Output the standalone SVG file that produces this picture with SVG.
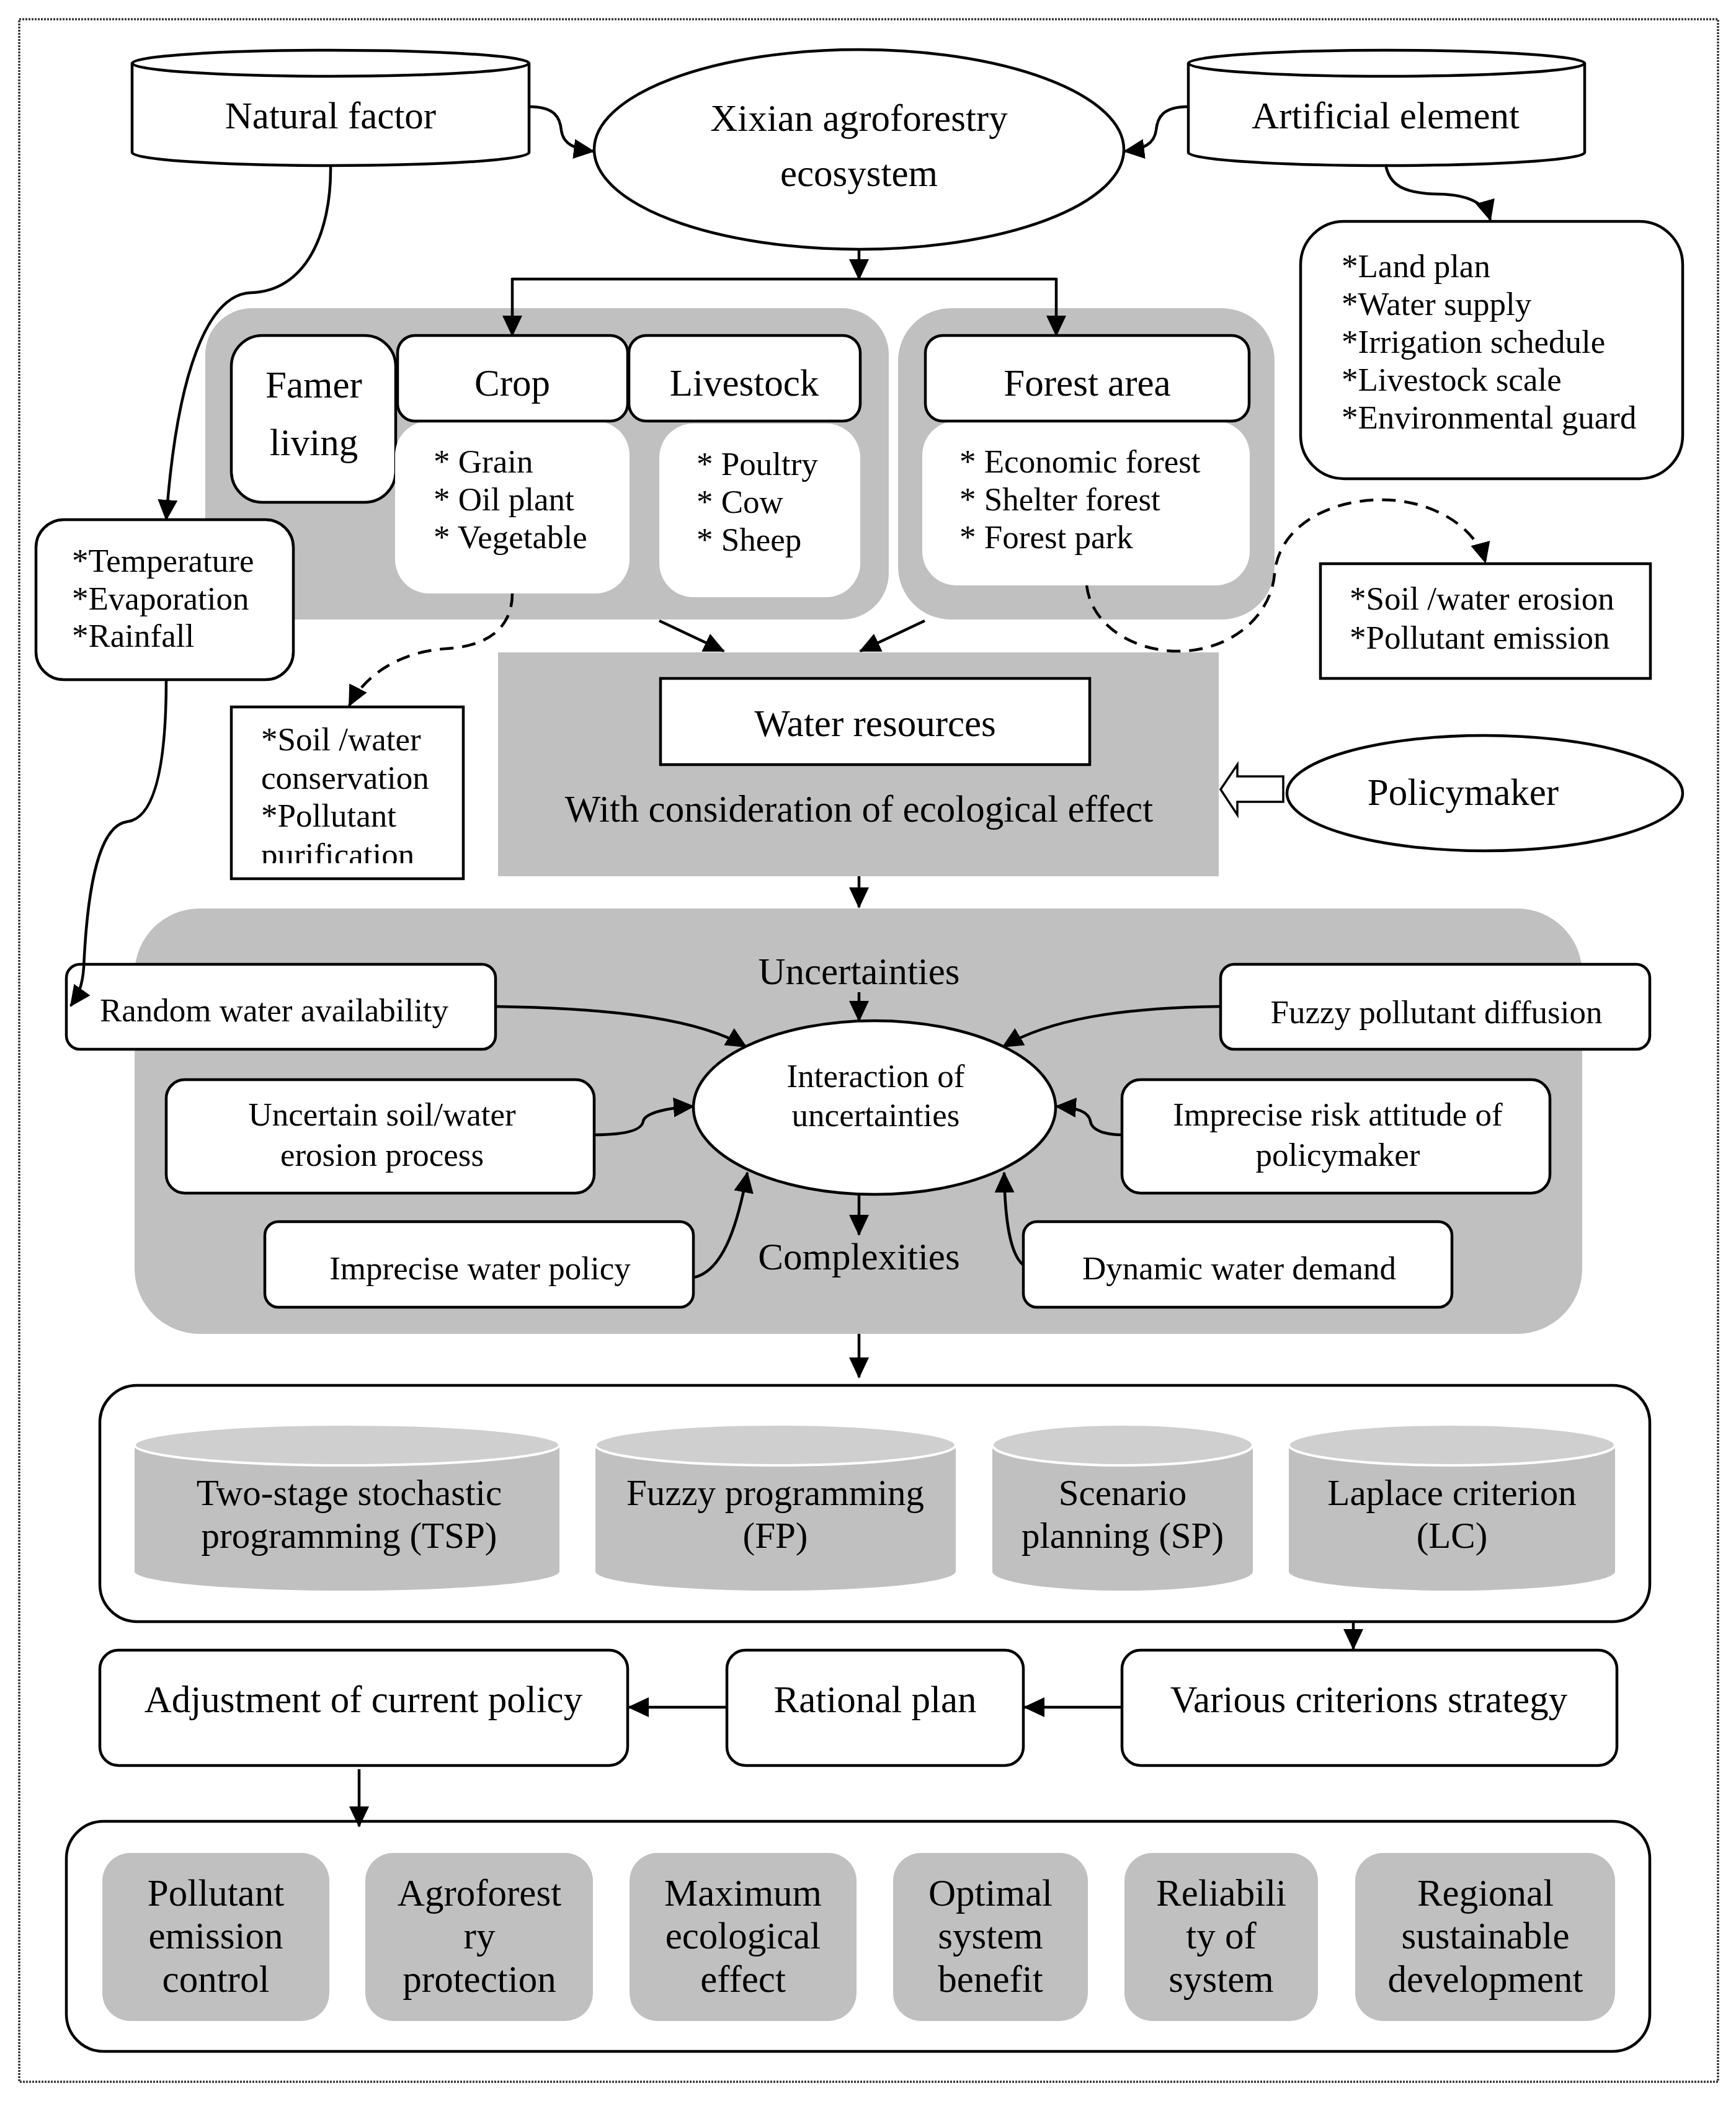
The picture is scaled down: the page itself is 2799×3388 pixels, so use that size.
<svg xmlns="http://www.w3.org/2000/svg" width="2799" height="3388" viewBox="0 0 2799 3388">
<defs>
<marker id="ah" markerUnits="userSpaceOnUse" markerWidth="34" markerHeight="32" refX="32" refY="16" orient="auto" viewBox="0 0 34 32"><path d="M0,0 L34,16 L0,32 z" fill="#000"/></marker>
<clipPath id="clipSoil"><rect x="373" y="1140" width="374" height="252"/></clipPath>
</defs>
<style>
text{font-family:"Liberation Serif","Times New Roman",serif;fill:#000}
.t61{font-size:61px}
.t59{font-size:59px}
.t53{font-size:53px}
.mid{text-anchor:middle}
.box{fill:#fff;stroke:#000;stroke-width:4.5}
.grey{fill:#c0c0c0;stroke:none}
.wh{fill:#fff;stroke:none}
.cyl{fill:#c0c0c0;stroke:none}
.cyltop{fill:#cfcfcf;stroke:#fff;stroke-width:4}
.conn{fill:none;stroke:#000;stroke-width:4.5}
.arr{marker-end:url(#ah)}
.dash{stroke-dasharray:22 14}
</style>
<rect width="2799" height="3388" fill="#fff"/>
<rect id="frame" x="31" y="31" width="2739" height="3326" fill="none" stroke="#333" stroke-width="3.5" stroke-dasharray="3 2"/>

<!-- background panels -->
<g id="panel-agri"><rect class="grey" x="331" y="497" width="1102" height="502" rx="75"/></g>
<g id="panel-forest"><rect class="grey" x="1448" y="497" width="607" height="502" rx="85"/></g>
<g id="panel-water"><rect class="grey" x="803" y="1052" width="1162" height="361"/></g>
<g id="panel-uncert"><rect class="grey" x="217" y="1465" width="2334" height="686" rx="105"/></g>

<g id="natural-factor">
<path class="box" d="M213,102 L213,246 A320,21 0 0 0 853,246 L853,102"/>
<ellipse class="box" cx="533" cy="102" rx="320" ry="21"/>
<text class="t61 mid" x="533" y="207">Natural factor</text>
</g>
<g id="artificial-element">
<path class="box" d="M1916,102 L1916,246 A319.5,21 0 0 0 2555,246 L2555,102"/>
<ellipse class="box" cx="2235.5" cy="102" rx="319.5" ry="21"/>
<text class="t61 mid" x="2234" y="207">Artificial element</text>
</g>
<g id="xixian">
<ellipse class="box" cx="1385" cy="241" rx="427" ry="161"/>
<text class="t61 mid" x="1385" y="211">Xixian agroforestry</text>
<text class="t61 mid" x="1385" y="300">ecosystem</text>
</g>
<g id="artificial-list">
<rect class="box" x="2097" y="357" width="616" height="415" rx="70"/>
<text class="t53" x="2163" y="447">*Land plan</text>
<text class="t53" x="2163" y="508">*Water supply</text>
<text class="t53" x="2163" y="569">*Irrigation schedule</text>
<text class="t53" x="2163" y="630">*Livestock scale</text>
<text class="t53" x="2163" y="691">*Environmental guard</text>
</g>
<g id="famer-living">
<rect class="box" x="373" y="541" width="265" height="269" rx="50"/>
<text class="t61 mid" x="506" y="641">Famer</text>
<text class="t61 mid" x="506" y="734">living</text>
</g>
<g id="crop">
<rect class="wh" x="637" y="679" width="378" height="278" rx="55"/>
<rect class="box" x="641" y="541" width="371" height="138" rx="28"/>
<text class="t61 mid" x="826" y="638">Crop</text>
<text class="t53" x="699" y="762">* Grain</text>
<text class="t53" x="699" y="823">* Oil plant</text>
<text class="t53" x="699" y="884">* Vegetable</text>
</g>
<g id="livestock">
<rect class="wh" x="1063" y="683" width="324" height="280" rx="55"/>
<rect class="box" x="1014" y="541" width="373" height="138" rx="28"/>
<text class="t61 mid" x="1200" y="638">Livestock</text>
<text class="t53" x="1123" y="766">* Poultry</text>
<text class="t53" x="1123" y="827">* Cow</text>
<text class="t53" x="1123" y="888">* Sheep</text>
</g>
<g id="forest-area">
<rect class="wh" x="1487" y="679" width="528" height="265" rx="55"/>
<rect class="box" x="1492" y="541" width="522" height="138" rx="28"/>
<text class="t61 mid" x="1753" y="638">Forest area</text>
<text class="t53" x="1547" y="762">* Economic forest</text>
<text class="t53" x="1547" y="823">* Shelter forest</text>
<text class="t53" x="1547" y="884">* Forest park</text>
</g>
<g id="natural-list">
<rect class="box" x="58" y="838" width="415" height="258" rx="45"/>
<text class="t53" x="116" y="922">*Temperature</text>
<text class="t53" x="116" y="983">*Evaporation</text>
<text class="t53" x="116" y="1043">*Rainfall</text>
</g>
<g id="soil-conservation">
<rect class="box" x="373" y="1140" width="374" height="277"/>
<g clip-path="url(#clipSoil)">
<text class="t53" x="421" y="1210">*Soil /water</text>
<text class="t53" x="421" y="1272">conservation</text>
<text class="t53" x="421" y="1333">*Pollutant</text>
<text class="t53" x="421" y="1396">purification</text>
</g>
</g>
<g id="soil-erosion">
<rect class="box" x="2129" y="909" width="532" height="185"/>
<text class="t53" x="2176" y="983">*Soil /water erosion</text>
<text class="t53" x="2176" y="1046">*Pollutant emission</text>
</g>
<g id="water-resources">
<rect class="box" x="1065" y="1094" width="692" height="139"/>
<text class="t61 mid" x="1411" y="1187">Water resources</text>
<text class="t61 mid" x="1385" y="1325">With consideration of ecological effect</text>
</g>
<g id="policymaker">
<ellipse class="box" cx="2394" cy="1279" rx="319" ry="93"/>
<text class="t61 mid" x="2359" y="1298">Policymaker</text>
</g>
<g id="uncertainties-labels">
<text class="t61 mid" x="1385" y="1587">Uncertainties</text>
<text class="t61 mid" x="1385" y="2047">Complexities</text>
</g>
<g id="interaction">
<ellipse class="box" cx="1410" cy="1786" rx="292" ry="140"/>
<text class="t53 mid" x="1412" y="1753">Interaction of</text>
<text class="t53 mid" x="1412" y="1816">uncertainties</text>
</g>
<g id="random-water">
<rect class="box" x="107" y="1555" width="692" height="137" rx="22"/>
<text class="t53 mid" x="442" y="1647">Random water availability</text>
</g>
<g id="uncertain-soil">
<rect class="box" x="268" y="1741" width="690" height="183" rx="30"/>
<text class="t53 mid" x="616" y="1815">Uncertain soil/water</text>
<text class="t53 mid" x="616" y="1880">erosion process</text>
</g>
<g id="water-policy">
<rect class="box" x="427" y="1970" width="691" height="138" rx="22"/>
<text class="t53 mid" x="774" y="2063">Imprecise water policy</text>
</g>
<g id="fuzzy-pollutant">
<rect class="box" x="1968" y="1555" width="692" height="137" rx="22"/>
<text class="t53 mid" x="2316" y="1650">Fuzzy pollutant diffusion</text>
</g>
<g id="risk-attitude">
<rect class="box" x="1809" y="1741" width="690" height="183" rx="30"/>
<text class="t53 mid" x="2157" y="1815">Imprecise risk attitude of</text>
<text class="t53 mid" x="2157" y="1880">policymaker</text>
</g>
<g id="dynamic-demand">
<rect class="box" x="1650" y="1970" width="691" height="138" rx="22"/>
<text class="t53 mid" x="1998" y="2063">Dynamic water demand</text>
</g>

<g id="methods">
<rect class="box" x="161" y="2234" width="2499" height="381" rx="60"/>
<g id="tsp">
<path class="cyl" d="M217,2330 L217,2534 A342.5,31 0 0 0 902,2534 L902,2330 z"/>
<ellipse class="cyltop" cx="559.5" cy="2330" rx="342.5" ry="33"/>
<text class="t59 mid" x="563" y="2427">Two-stage stochastic</text>
<text class="t59 mid" x="563" y="2496">programming (TSP)</text>
</g>
<g id="fp">
<path class="cyl" d="M960,2330 L960,2534 A290.5,31 0 0 0 1541,2534 L1541,2330 z"/>
<ellipse class="cyltop" cx="1250.5" cy="2330" rx="290.5" ry="33"/>
<text class="t59 mid" x="1250" y="2427">Fuzzy programming</text>
<text class="t59 mid" x="1250" y="2496">(FP)</text>
</g>
<g id="sp">
<path class="cyl" d="M1600,2330 L1600,2534 A210,31 0 0 0 2020,2534 L2020,2330 z"/>
<ellipse class="cyltop" cx="1810" cy="2330" rx="210" ry="33"/>
<text class="t59 mid" x="1810" y="2427">Scenario</text>
<text class="t59 mid" x="1810" y="2496">planning (SP)</text>
</g>
<g id="lc">
<path class="cyl" d="M2078,2330 L2078,2534 A263,31 0 0 0 2604,2534 L2604,2330 z"/>
<ellipse class="cyltop" cx="2341" cy="2330" rx="263" ry="33"/>
<text class="t59 mid" x="2341" y="2427">Laplace criterion</text>
<text class="t59 mid" x="2341" y="2496">(LC)</text>
</g>
</g>

<g id="various-criterions">
<rect class="box" x="1809" y="2661" width="798" height="186" rx="30"/>
<text class="t61 mid" x="2207" y="2761">Various criterions strategy</text>
</g>
<g id="rational-plan">
<rect class="box" x="1172" y="2661" width="478" height="186" rx="30"/>
<text class="t61 mid" x="1411" y="2761">Rational plan</text>
</g>
<g id="adjustment">
<rect class="box" x="161" y="2661" width="851" height="186" rx="30"/>
<text class="t61 mid" x="586" y="2761">Adjustment of current policy</text>
</g>

<g id="outcomes">
<rect class="box" x="107" y="2937" width="2553" height="371" rx="60"/>
<g id="o1"><rect class="grey" x="165" y="2988" width="366" height="271" rx="45"/>
<text class="t61 mid" x="348" y="3073">Pollutant</text><text class="t61 mid" x="348" y="3142">emission</text><text class="t61 mid" x="348" y="3212">control</text></g>
<g id="o2"><rect class="grey" x="589" y="2988" width="367" height="271" rx="45"/>
<text class="t61 mid" x="773" y="3073">Agroforest</text><text class="t61 mid" x="773" y="3142">ry</text><text class="t61 mid" x="773" y="3212">protection</text></g>
<g id="o3"><rect class="grey" x="1015" y="2988" width="366" height="271" rx="45"/>
<text class="t61 mid" x="1198" y="3073">Maximum</text><text class="t61 mid" x="1198" y="3142">ecological</text><text class="t61 mid" x="1198" y="3212">effect</text></g>
<g id="o4"><rect class="grey" x="1440" y="2988" width="314" height="271" rx="45"/>
<text class="t61 mid" x="1597" y="3073">Optimal</text><text class="t61 mid" x="1597" y="3142">system</text><text class="t61 mid" x="1597" y="3212">benefit</text></g>
<g id="o5"><rect class="grey" x="1813" y="2988" width="312" height="271" rx="45"/>
<text class="t61 mid" x="1969" y="3073">Reliabili</text><text class="t61 mid" x="1969" y="3142">ty of</text><text class="t61 mid" x="1969" y="3212">system</text></g>
<g id="o6"><rect class="grey" x="2185" y="2988" width="419" height="271" rx="45"/>
<text class="t61 mid" x="2395" y="3073">Regional</text><text class="t61 mid" x="2395" y="3142">sustainable</text><text class="t61 mid" x="2395" y="3212">development</text></g>
</g>

<g id="connectors">
<path class="conn arr" d="M853,172 C895,172 903,190 905,210 C908,232 925,240 957,244"/>
<path class="conn arr" d="M1916,172 C1874,172 1866,190 1864,210 C1861,232 1845,240 1813,244"/>
<path class="conn arr" d="M2234,265 C2240,300 2265,312 2320,313 C2370,314 2396,330 2403,355"/>
<path class="conn arr" d="M1385,402 L1385,450"/>
<path class="conn" d="M826,450 L1703,450"/>
<path class="conn arr" d="M826,448 L826,541"/>
<path class="conn arr" d="M1703,448 L1703,541"/>
<path class="conn arr" d="M533,265 C535,380 490,470 405,472 C335,474 285,600 268,838"/>
<path class="conn arr" d="M268,1096 C268,1240 248,1320 205,1325 C155,1332 140,1450 135,1560 C133,1590 126,1605 114,1622"/>
<path class="conn dash arr" d="M826,957 C826,1020 775,1043 720,1046 C650,1050 590,1085 563,1138"/>
<path class="conn arr" d="M1063,1001 L1167,1050"/>
<path class="conn arr" d="M1491,1001 L1387,1050"/>
<path class="conn dash arr" d="M1752,944 C1760,1010 1830,1052 1905,1050 C1990,1047 2050,990 2055,925 C2062,850 2140,806 2228,806 C2310,806 2380,850 2395,907"/>
<polygon points="2069,1252 1995,1252 1995,1233 1968,1273 1995,1314 1995,1293 2069,1293" fill="#fff" stroke="#000" stroke-width="3.5"/>
<path class="conn arr" d="M1385,1413 L1385,1463"/>
<path class="conn arr" d="M1385,1600 L1385,1646"/>
<path class="conn arr" d="M1385,1926 L1385,1991"/>
<path class="conn arr" d="M799,1623 C1000,1626 1130,1645 1203,1688"/>
<path class="conn arr" d="M958,1830 C1010,1830 1035,1822 1037,1808 C1040,1794 1080,1786 1118,1784"/>
<path class="conn arr" d="M1118,2060 C1170,2050 1192,1960 1205,1891"/>
<path class="conn arr" d="M1968,1623 C1800,1625 1690,1645 1617,1688"/>
<path class="conn arr" d="M1809,1830 C1780,1830 1760,1822 1758,1808 C1755,1792 1735,1786 1703,1784"/>
<path class="conn arr" d="M1650,2040 C1625,2020 1620,1950 1619,1891"/>
<path class="conn arr" d="M1385,2151 L1385,2221"/>
<path class="conn arr" d="M2182,2615 L2182,2659"/>
<path class="conn arr" d="M1809,2753 L1652,2753"/>
<path class="conn arr" d="M1172,2753 L1014,2753"/>
<path class="conn arr" d="M579,2853 L579,2945"/>
</g>
</svg>
